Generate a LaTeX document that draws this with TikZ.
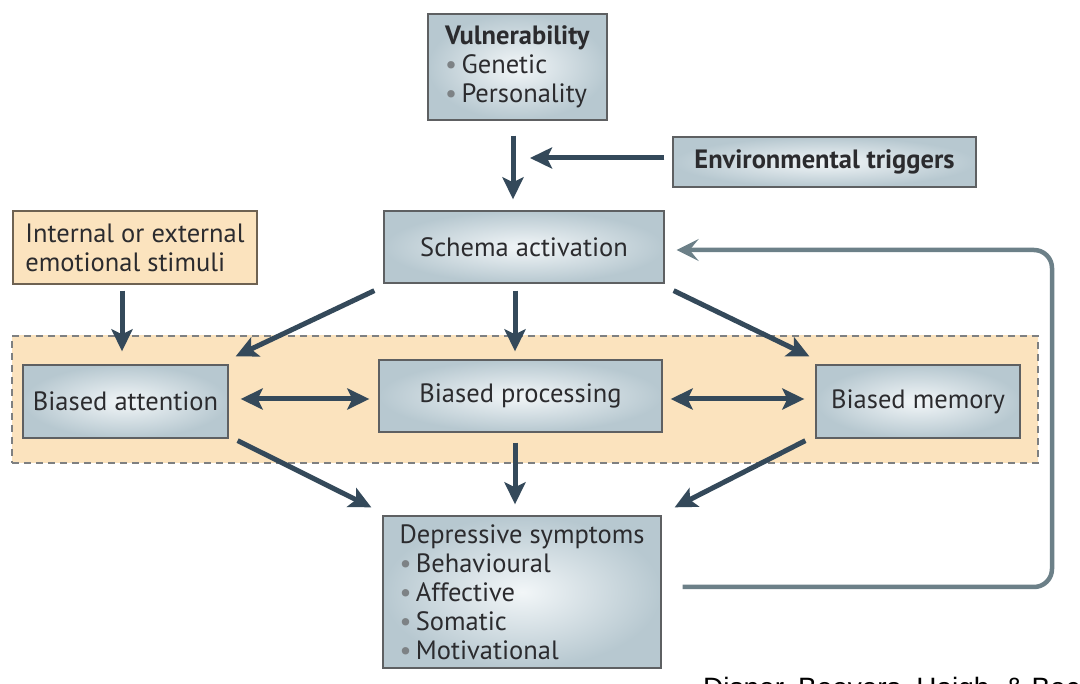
\documentclass[tikz,border=0pt]{standalone}
\usepackage{fontspec}
\setmainfont{PT Sans}
\newfontfamily\citefont{Liberation Sans}
\usetikzlibrary{arrows.meta}

\definecolor{arrowcol}{HTML}{34495A}
\definecolor{loopcol}{HTML}{6C8088}
\definecolor{boxedge}{HTML}{5E6062}
\definecolor{boxout}{HTML}{B7C8D0}
\definecolor{boxin}{HTML}{F2F6F8}
\definecolor{peach}{HTML}{FBE3BE}
\definecolor{peachlight}{HTML}{FDF2E2}
\definecolor{stimedge}{HTML}{6E6252}
\definecolor{txt}{HTML}{2B2B2E}
\definecolor{bulletcol}{HTML}{7D8285}

\newcommand{\bul}{{\color{bulletcol}•}\,}

\tikzset{
  box/.style={draw=boxedge, line width=1.3pt, inner color=boxin, outer color=boxout,
    text=txt, font=\fontsize{26.5}{29}\selectfont, align=left, inner sep=0pt},
  stimbox/.style={draw=stimedge, line width=1.3pt, fill=peach,
    text=txt, font=\fontsize{26.5}{29}\selectfont, align=left, inner sep=0pt},
  arr/.style={draw=arrowcol, line width=5pt,
    -{Stealth[length=22pt,width=21pt,inset=5pt]}},
  dblarr/.style={draw=arrowcol, line width=5pt,
    {Stealth[length=22pt,width=21pt,inset=5pt]}-{Stealth[length=22pt,width=21pt,inset=5pt]}},
  fbarr/.style={draw=loopcol, line width=4.5pt, rounded corners=18pt,
    -{Stealth[length=22pt,width=22pt,inset=9pt]}},
}

\begin{document}
\begin{tikzpicture}[x=1pt,y=-1pt]
\useasboundingbox (0,0) rectangle (1080,684);
\clip (0,0) rectangle (1080,684);
\fill[white] (0,0) rectangle (1080,684);

% shaded band holding the three bias boxes
\node[draw=boxedge!80, dashed, dash pattern=on 7pt off 5pt, line width=1.1pt,
      left color=peach, middle color=peachlight, right color=peach,
      minimum width=1026pt, minimum height=127pt, inner sep=0pt] (band) at (525,399.5) {};

% boxes
\node[box, minimum width=179pt, minimum height=106pt] (vul) at (517.5,67)
  {\textbf{Vulnerability}\\ \bul Genetic\\ \bul Personality};
\node[box, minimum width=303pt, minimum height=50pt] (env) at (824.5,162)
  {\textbf{Environmental triggers}};
\node[box, minimum width=280pt, minimum height=72pt] (schema) at (524,247)
  {Schema activation};
\node[stimbox, minimum width=244pt, minimum height=73pt] (stim) at (135,247.5)
  {Internal or external\\ emotional stimuli};
\node[box, minimum width=205pt, minimum height=73pt] (att) at (125.5,401.5)
  {Biased attention};
\node[box, minimum width=283pt, minimum height=72pt] (proc) at (520.5,396)
  {Biased processing};
\node[box, minimum width=204pt, minimum height=73pt] (mem) at (918,401.5)
  {Biased memory};
\node[box, minimum width=278pt, minimum height=152pt] (dep) at (522,592)
  {Depressive symptoms\\ \bul Behavioural\\ \bul Affective\\ \bul Somatic\\ \bul Motivational};

% connectors
\coordinate (merge) at (513,158);
\draw[arr] ([shift={(-4.5,15)}]vul.south) -- ([shift={(-11,-11)}]schema.north);
\draw[arr] ([shift={(-8,-4)}]env.west) -- ([xshift=17pt]merge);

\draw[arr] ([shift={(-9,7)}]schema.south west) -- ([shift={(7,-8)}]att.north east);
\draw[arr] ([shift={(-9,7)}]schema.south) -- ([shift={(-5.5,-8)}]proc.north);
\draw[arr] ([shift={(9,7)}]schema.south east) -- ([shift={(-6,-8)}]mem.north west);
\draw[arr] ([shift={(-13,6)}]stim.south) -- ([shift={(-3.5,-13)}]att.north);

\draw[dblarr] ([shift={(12,-2.5)}]att.east) -- ([shift={(-9,3)}]proc.west);
\draw[dblarr] ([shift={(8,3)}]proc.east) -- ([shift={(-11,-2.5)}]mem.west);

\draw[arr] ([shift={(9,2)}]att.south east) -- ([shift={(-11,-8)}]dep.north west);
\draw[arr] ([shift={(-5.5,10)}]proc.south) -- ([shift={(-7,-11)}]dep.north);
\draw[arr] ([shift={(-10,2)}]mem.south west) -- ([shift={(13,-8)}]dep.north east);

% feedback loop from symptoms back to schema activation
\coordinate (fbcorner) at (1052,587);
\draw[fbarr] ([shift={(21,-5)}]dep.east) -- (fbcorner) |- ([shift={(12,3)}]schema.east);

% citation along the lower edge
\node[anchor=base west, inner sep=0pt, font=\citefont\fontsize{28}{28}\selectfont, text=black]
  (cite) at (703,697) {Disner, Beevers, Haigh, \& Beck};
\end{tikzpicture}
\end{document}
